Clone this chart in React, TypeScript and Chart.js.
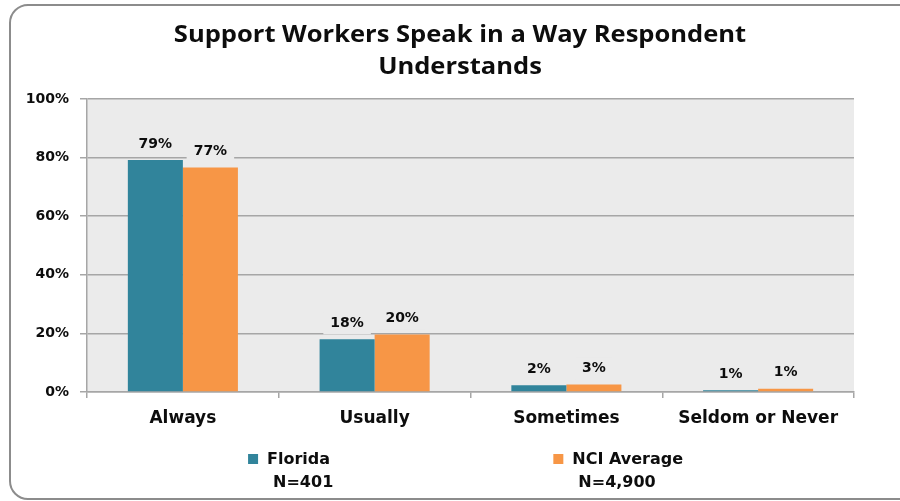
import React, { useEffect, useRef } from "react";
import { Chart, registerables } from "chart.js";

Chart.register(...registerables);

const categories = ["Always", "Usually", "Sometimes", "Seldom or Never"];
const floridaValues = [79.2, 18.0, 2.3, 0.6];
const nciValues = [76.6, 19.6, 2.6, 1.1];
const yTicks = [0, 20, 40, 60, 80, 100];
const titleLines = ["Support Workers Speak in a Way Respondent", "Understands"];
const legendItems = [
  { name: "Florida", sub: "N=401", color: "#31849B" },
  { name: "NCI Average", sub: "N=4,900", color: "#F79646" },
];

const PLOT_BG = "#EBEBEB";
const GRID = "#A6A6A6";
const TEXT = "#0d0d0d";

const framePlugin = {
  id: "frame",
  beforeDraw(chart: any) {
    const { ctx, chartArea } = chart;
    ctx.save();
    ctx.fillStyle = "#ffffff";
    ctx.fillRect(0, 0, chart.width, chart.height);
    ctx.strokeStyle = "#8C8C8C";
    ctx.lineWidth = 2;
    ctx.beginPath();
    (ctx as any).roundRect(10, 5, chart.width + 10, chart.height - 7, 18);
    ctx.stroke();
    ctx.fillStyle = PLOT_BG;
    ctx.fillRect(chartArea.left, chartArea.top, chartArea.right - chartArea.left, chartArea.bottom - chartArea.top);
    ctx.restore();
  },
  afterDraw(chart: any) {
    const { ctx, chartArea } = chart;
    ctx.save();
    ctx.fillStyle = TEXT;
    ctx.font = "bold 23px 'Open Sans'";
    ctx.textAlign = "center";
    ctx.textBaseline = "alphabetic";
    const cx = 460;
    ctx.save();
    ctx.translate(cx, 0);
    ctx.scale(1.11, 1);
    ctx.fillText(titleLines[0], 0, 42);
    ctx.fillText(titleLines[1], 0, 74);
    ctx.restore();
    const w = chartArea.right - chartArea.left;
    const starts = [chartArea.left + w * 0.210, chartArea.left + w * 0.608];
    ctx.textAlign = "left";
    ctx.textBaseline = "middle";
    ctx.font = "bold 16px 'DejaVu Sans'";
    legendItems.forEach((it, i) => {
      const x = starts[i];
      ctx.fillStyle = it.color;
      ctx.fillRect(x, 454, 10, 10);
      ctx.fillStyle = TEXT;
      ctx.fillText(it.name, x + 19, 460);
      ctx.fillText(it.sub, x + 25, 483);
    });
    ctx.restore();
  },
};

const labelPlugin = {
  id: "barLabels",
  afterDatasetsDraw(chart: any) {
    const { ctx } = chart;
    ctx.save();
    ctx.font = "bold 14px 'DejaVu Sans'";
    ctx.textAlign = "center";
    ctx.textBaseline = "middle";
    chart.data.datasets.forEach((ds: any, di: number) => {
      const meta = chart.getDatasetMeta(di);
      meta.data.forEach((bar: any, i: number) => {
        const text = Math.round(ds.data[i]) + "%";
        const tw = ctx.measureText(text).width;
        const cy = bar.y - 16;
        ctx.fillStyle = PLOT_BG;
        ctx.fillRect(bar.x - tw / 2 - 7, cy - 11, tw + 14, 22);
        ctx.fillStyle = TEXT;
        ctx.fillText(text, bar.x, cy);
      });
    });
    ctx.restore();
  },
};

export default function App() {
  const ref = useRef<HTMLCanvasElement>(null);
  useEffect(() => {
    if (!ref.current) return;
    const chart = new Chart(ref.current, {
      type: "bar",
      data: {
        labels: categories,
        datasets: [
          { label: legendItems[0].name, data: floridaValues, backgroundColor: legendItems[0].color, categoryPercentage: 0.574, barPercentage: 1 },
          { label: legendItems[1].name, data: nciValues, backgroundColor: legendItems[1].color, categoryPercentage: 0.574, barPercentage: 1 },
        ],
      },
      options: {
        responsive: false,
        animation: false,
        layout: { padding: { top: 99, right: 46, bottom: 69, left: 0 } },
        plugins: { legend: { display: false }, title: { display: false }, tooltip: { enabled: false } },
        scales: {
          x: {
            afterFit: (s: any) => { s.height = 40; },
            grid: { drawOnChartArea: false, drawTicks: true, tickLength: 6, color: GRID, lineWidth: 1.5 },
            border: { color: GRID, width: 1.5 },
            ticks: { color: TEXT, font: { family: "'DejaVu Sans'", size: 17, weight: "bold" }, padding: 10 },
          },
          y: {
            min: 0,
            max: 100,
            afterFit: (s: any) => { s.width = 87; },
            afterBuildTicks: (s: any) => { s.ticks = yTicks.map((v) => ({ value: v })); },
            grid: { color: GRID, lineWidth: 1.5, drawTicks: true, tickLength: 7 },
            border: { color: GRID, width: 1.5 },
            ticks: {
              color: TEXT,
              font: { family: "'DejaVu Sans'", size: 14, weight: "bold" },
              padding: 11,
              callback: (v: any) => v + "%",
            },
          },
        },
      },
      plugins: [framePlugin, labelPlugin],
    });
    return () => chart.destroy();
  }, []);
  return (
    <div style={{ position: "absolute", left: 0, top: 0, width: 900, height: 501 }}>
      <canvas ref={ref} width={900} height={501} style={{ display: "block" }} />
    </div>
  );
}
